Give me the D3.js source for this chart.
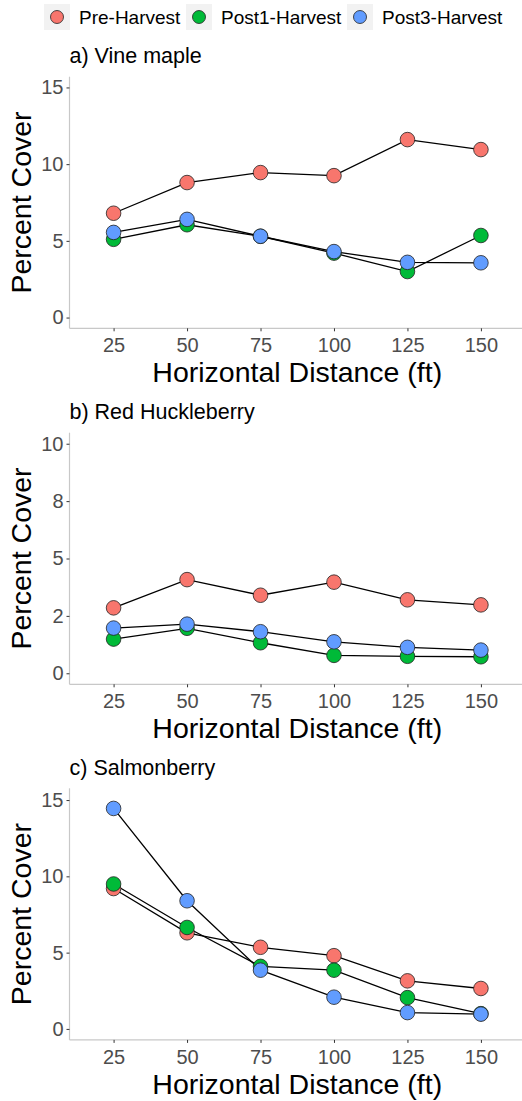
<!DOCTYPE html>
<html>
<head>
<meta charset="utf-8">
<script src="https://cdn.jsdelivr.net/npm/d3@7"></script>
<style>
  body { margin: 0; background: #fff; }
  text { font-family: "Liberation Sans", Arial, sans-serif; }
</style>
</head>
<body>
<svg id="chart" width="522" height="1101"></svg>
<script>
var distances = [25, 50, 75, 100, 125, 150];
var seriesNames = ["Pre-Harvest", "Post1-Harvest", "Post3-Harvest"];
var seriesColors = ["#F8766D", "#00BA38", "#619CFF"];

// percent cover, one row per series (pre, post1, post3)
var vineMaple = [
  [6.8, 8.8, 9.45, 9.25, 11.6, 10.95],
  [5.1, 6.05, 5.3, 4.2, 3.0, 5.35],
  [5.55, 6.4, 5.3, 4.3, 3.6, 3.57]
];
var redHuckleberry = [
  [2.85, 4.08, 3.4, 3.97, 3.2, 2.98],
  [1.49, 1.96, 1.33, 0.78, 0.74, 0.72],
  [1.97, 2.14, 1.81, 1.37, 1.13, 1.01]
];
var salmonberry = [
  [9.2, 6.3, 5.35, 4.8, 3.15, 2.65],
  [9.5, 6.65, 4.1, 3.85, 2.05, 1.0],
  [14.45, 8.4, 3.85, 2.08, 1.07, 0.97]
];

var panelTitles = ["a) Vine maple", "b) Red Huckleberry", "c) Salmonberry"];
var panelTicks = [[0, 5, 10, 15], [0, 2.5, 5, 7.5, 10], [0, 5, 10, 15]];
var panelTickLabels = [["0", "5", "10", "15"], ["0", "2", "5", "8", "10"], ["0", "5", "10", "15"]];
var panelData = [vineMaple, redHuckleberry, salmonberry];

var svg = d3.select("#chart");

var left = 69.5, right = 525;
var panelTops = [76.7, 432.7, 788.3];
var panelH = 251.6;
var yDomains = [[-0.7, 15.7], [-0.48, 10.48], [-0.72, 15.77]];

var x = d3.scaleLinear().domain([10, 165]).range([left, right]);

// legend
var legendX = [44, 186, 347];
seriesNames.forEach(function (name, i) {
  var g = svg.append("g").attr("transform", "translate(" + legendX[i] + ",4)");
  g.append("rect").attr("width", 26).attr("height", 26).attr("fill", "#f2f2f2");
  g.append("circle").attr("cx", 13).attr("cy", 13).attr("r", 6.5)
    .attr("fill", seriesColors[i]).attr("stroke", "#222").attr("stroke-width", 0.8);
  g.append("text").attr("x", 35).attr("y", 20).attr("font-size", 19).attr("fill", "#000").text(name);
});

panelData.forEach(function (data, p) {
  var top = panelTops[p];
  var y = d3.scaleLinear().domain(yDomains[p]).range([top + panelH, top]);
  var g = svg.append("g");

  g.append("text").attr("x", left).attr("y", top - 13.5)
    .attr("font-size", 21.5).attr("fill", "#000").text(panelTitles[p]);

  // y axis
  var yAxis = d3.axisLeft(y).tickValues(panelTicks[p]).tickSize(3).tickPadding(3)
    .tickFormat(function (d, i) { return panelTickLabels[p][i]; });
  var ya = g.append("g").attr("transform", "translate(" + left + ",0)").call(yAxis);
  ya.select(".domain").attr("stroke", "#c8c8c8").attr("stroke-width", 1.2)
    .attr("d", "M0," + (top + panelH) + "V" + top);
  ya.selectAll(".tick line").attr("stroke", "#333");
  ya.selectAll(".tick text").attr("font-size", 20).attr("fill", "#4d4d4d")
    .attr("font-family", "Liberation Sans, Arial, sans-serif");

  // x axis
  var xAxis = d3.axisBottom(x).tickValues(distances).tickSize(3).tickPadding(7);
  var xa = g.append("g").attr("transform", "translate(0," + (top + panelH) + ")").call(xAxis);
  xa.select(".domain").attr("stroke", "#c8c8c8").attr("stroke-width", 1.2)
    .attr("d", "M" + left + ",0H" + right);
  xa.selectAll(".tick line").attr("stroke", "#333");
  xa.selectAll(".tick text").attr("font-size", 20).attr("fill", "#4d4d4d")
    .attr("font-family", "Liberation Sans, Arial, sans-serif");

  g.append("text").attr("x", (left + 521) / 2 + 2).attr("y", top + panelH + 54)
    .attr("text-anchor", "middle").attr("font-size", 28.5).attr("fill", "#000")
    .text("Horizontal Distance (ft)");

  g.append("text")
    .attr("transform", "translate(" + 31 + "," + (top + panelH / 2) + ") rotate(-90)")
    .attr("text-anchor", "middle").attr("font-size", 28.5).attr("fill", "#000")
    .text("Percent Cover");

  var line = d3.line()
    .x(function (d, i) { return x(distances[i]); })
    .y(function (d) { return y(d); });

  data.forEach(function (vals) {
    g.append("path").datum(vals).attr("d", line)
      .attr("fill", "none").attr("stroke", "#000").attr("stroke-width", 1.3);
  });

  data.forEach(function (vals, s) {
    g.selectAll(".pt" + s).data(vals).enter().append("circle")
      .attr("cx", function (d, i) { return x(distances[i]); })
      .attr("cy", function (d) { return y(d); })
      .attr("r", 7.3)
      .attr("fill", seriesColors[s])
      .attr("stroke", "#222").attr("stroke-width", 0.8);
  });
});
</script>
</body>
</html>
